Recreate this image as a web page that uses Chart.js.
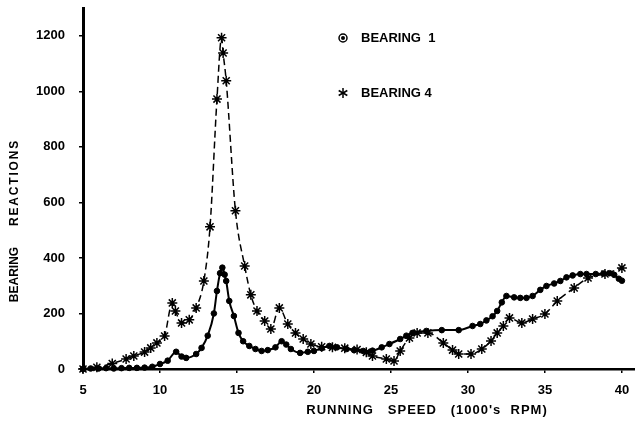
<!DOCTYPE html>
<html>
<head>
<meta charset="utf-8">
<script src="https://cdn.jsdelivr.net/npm/chart.js@4/dist/chart.umd.min.js"></script>
<style>
    body { margin: 0; background: #fff; }
    #wrap { width: 635px; height: 421px; position: relative; }
</style>
</head>
<body>
<div id="wrap"><canvas id="bearing-chart"></canvas></div>
<script>
// running speed (1000's rpm) and bearing reaction
const bearing1Speed = [5, 5.5, 6, 6.5, 7, 7.5, 8, 8.5, 9, 9.5, 10, 10.5, 11.05, 11.4, 11.7, 12.35, 12.7, 13.1, 13.5, 13.7, 13.9, 14.05, 14.2, 14.3, 14.5, 14.8, 15.1, 15.4, 15.8, 16.2, 16.6, 17.0, 17.5, 17.9, 18.2, 18.5, 19.1, 19.6, 20.0, 20.5, 21.0, 21.5, 22.1, 22.6, 23.2, 23.8, 24.4, 24.9, 25.6, 26.0, 26.4, 27.3, 28.3, 29.4, 30.3, 30.8, 31.2, 31.6, 31.9, 32.2, 32.5, 33.0, 33.4, 33.8, 34.2, 34.7, 35.1, 35.6, 36.0, 36.4, 36.8, 37.3, 37.7, 38.3, 38.8, 39.2, 39.5, 39.8, 40];
const bearing1Values = [0, 2, 2, 3, 2, 3, 4, 4, 5, 8, 18, 30, 62, 45, 40, 54, 76, 120, 200, 281, 345, 365, 340, 317, 245, 191, 130, 100, 83, 72, 65, 68, 78, 100, 88, 72, 58, 62, 65, 75, 83, 78, 72, 68, 65, 66, 78, 90, 108, 120, 130, 137, 140, 140, 155, 162, 175, 190, 209, 240, 263, 258, 256, 256, 263, 285, 299, 308, 317, 330, 337, 342, 342, 342, 344, 345, 339, 325, 318];

const bearing4Speed = [5, 5.9, 6.9, 7.8, 8.3, 9.0, 9.4, 9.8, 10.3, 10.8, 11.0, 11.4, 11.9, 12.35, 12.85, 13.25, 13.7, 14.0, 14.1, 14.3, 14.9, 15.5, 15.9, 16.3, 16.8, 17.2, 17.75, 18.3, 18.8, 19.3, 19.8, 20.5, 21.2, 22.0, 22.8, 23.4, 23.8, 24.7, 25.2, 25.6, 26.2, 26.7, 27.4, 28.4, 29.0, 29.4, 30.2, 30.9, 31.5, 31.9, 32.3, 32.7, 33.5, 34.2, 35.0, 35.8, 36.9, 37.8, 38.9, 40.0];
const bearing4Values = [0, 6, 20, 36, 47, 61, 76, 94, 119, 238, 209, 166, 177, 220, 317, 512, 972, 1193, 1138, 1038, 570, 371, 267, 209, 173, 144, 220, 162, 130, 108, 90, 80, 78, 75, 70, 60, 47, 36, 29, 65, 112, 130, 130, 94, 68, 54, 54, 72, 101, 130, 155, 184, 166, 180, 198, 245, 292, 328, 342, 364];

const xTickValues = [5, 10, 15, 20, 25, 30, 35, 40];
const yTickValues = [0, 200, 400, 600, 800, 1000, 1200];

const toPoints = (xs, ys) => xs.map((x, i) => ({ x: x, y: ys[i] }));

const FONT = "'Liberation Sans', Arial, sans-serif";

// no auto padding from the tick labels, the frame is placed by hand
const noPad = (s) => {
    s.paddingTop = 0;
    s.paddingBottom = 0;
    s.paddingLeft = 0;
    s.paddingRight = 0;
};

// legend + axis titles drawn by hand, the original puts them in odd places
const hand = {
    id: "handLabels",
    afterDraw(chart) {
        const ctx = chart.ctx;
        ctx.save();
        ctx.fillStyle = "#000";
        ctx.strokeStyle = "#000";
        ctx.textBaseline = "middle";

        // legend
        ctx.font = "bold 13px " + FONT;
        ctx.textAlign = "left";
        ctx.lineWidth = 1.5;
        ctx.beginPath();
        ctx.arc(343, 38, 4, 0, Math.PI * 2);
        ctx.stroke();
        ctx.beginPath();
        ctx.arc(343, 38, 2, 0, Math.PI * 2);
        ctx.fill();
        ctx.fillText("BEARING  1", 361, 38);

        for (let a = 0; a < 3; a++) {
            const ang = a * Math.PI / 3 + Math.PI / 2;
            ctx.beginPath();
            ctx.moveTo(343 - 5 * Math.cos(ang), 93 - 5 * Math.sin(ang));
            ctx.lineTo(343 + 5 * Math.cos(ang), 93 + 5 * Math.sin(ang));
            ctx.stroke();
        }
        ctx.fillText("BEARING 4", 361, 93);

        // x title
        ctx.font = "bold 13px " + FONT;
        ctx.textAlign = "center";
        ctx.letterSpacing = "1px";
        ctx.fillText("RUNNING   SPEED   (1000's  RPM)", 427, 410);

        // y title
        ctx.font = "bold 12px " + FONT;
        ctx.translate(15, 231);
        ctx.rotate(-Math.PI / 2);
        ctx.letterSpacing = "0px";
        ctx.fillText("BEARING", -43.5, 0);
        ctx.letterSpacing = "1.8px";
        ctx.fillText("REACTIONS", 48.5, 0);
        ctx.restore();
    }
};

const bearingCtx = document.getElementById("bearing-chart").getContext("2d");

const bearingChart = new Chart(bearingCtx, {
    type: "line",
    data: {
        datasets: [{
            label: "BEARING 1",
            data: toPoints(bearing1Speed, bearing1Values),
            borderColor: "#000",
            backgroundColor: "#000",
            borderWidth: 2,
            pointStyle: "circle",
            pointRadius: 2.8,
            pointBorderWidth: 1,
            cubicInterpolationMode: "monotone",
            clip: false,
        }, {
            label: "BEARING 4",
            data: toPoints(bearing4Speed, bearing4Values),
            borderColor: "#000",
            backgroundColor: "#000",
            borderWidth: 1.5,
            borderDash: [7, 4],
            pointStyle: "star",
            pointRadius: 5,
            pointBorderWidth: 1.5,
            cubicInterpolationMode: "monotone",
            clip: false,
        }],
    },
    options: {
        responsive: true,
        maintainAspectRatio: false,
        animation: false,
        layout: { autoPadding: false, padding: { top: 8, right: 0, left: 0, bottom: 0 } },
        plugins: {
            legend: { display: false },
            tooltip: { enabled: false },
        },
        scales: {
            x: {
                type: "linear",
                min: 5,
                max: 40.85,
                afterBuildTicks: (s) => { s.ticks = xTickValues.map(v => ({ value: v })); },
                afterFit: (s) => { s.height = 52; noPad(s); },
                border: { color: "#000", width: 2.5 },
                grid: { drawOnChartArea: false, color: "#000", lineWidth: 1.5, tickLength: 4 },
                ticks: { color: "#000", font: { family: FONT, size: 13, weight: "bold" }, padding: 10, maxRotation: 0 },
            },
            y: {
                min: 0,
                max: 1300,
                afterBuildTicks: (s) => { s.ticks = yTickValues.map(v => ({ value: v })); },
                afterFit: (s) => { s.width = 83; noPad(s); },
                border: { color: "#000", width: 3 },
                grid: { drawOnChartArea: false, color: "#000", lineWidth: 1.5, tickLength: 4 },
                ticks: {
                    color: "#000",
                    font: { family: FONT, size: 13, weight: "bold" },
                    padding: 14,
                    callback: (v) => String(v),
                },
            },
        },
    },
    plugins: [hand],
});
</script>
</body>
</html>
